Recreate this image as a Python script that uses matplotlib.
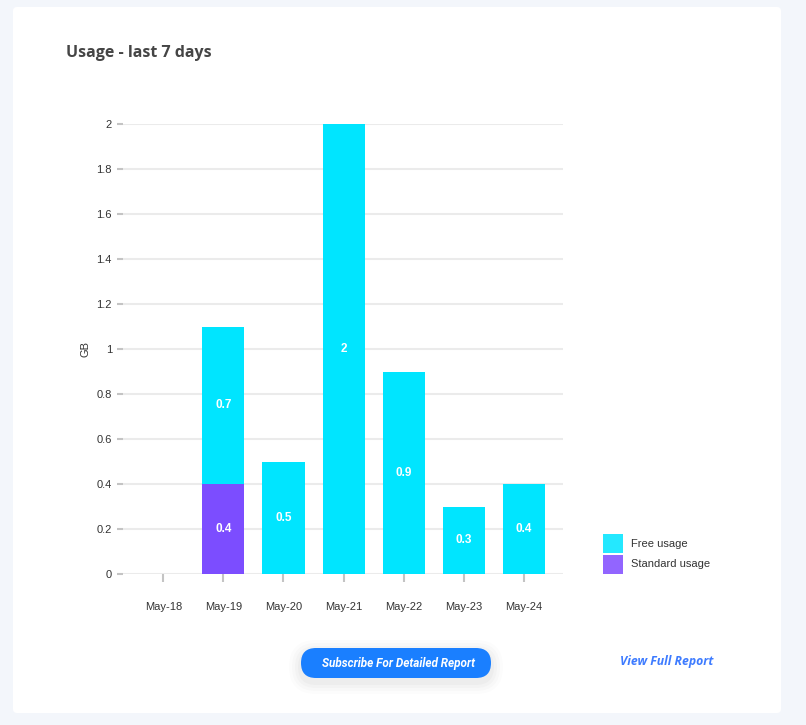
import numpy as np
import matplotlib
matplotlib.use('Agg')
import matplotlib.pyplot as plt
from matplotlib.patches import FancyBboxPatch, Patch
from matplotlib.transforms import IdentityTransform

dates = ['May-18', 'May-19', 'May-20', 'May-21', 'May-22', 'May-23', 'May-24']
standard_usage = [0, 0.4, 0, 0, 0, 0, 0]
free_usage = [0, 0.7, 0.5, 2, 0.9, 0.3, 0.4]
y_ticks = [0, 0.2, 0.4, 0.6, 0.8, 1, 1.2, 1.4, 1.6, 1.8, 2]
y_tick_labels = ['0', '0.2', '0.4', '0.6', '0.8', '1', '1.2', '1.4', '1.6', '1.8', '2']

W, H = 806, 725
fig = plt.figure(figsize=(W / 100, H / 100), dpi=100)
fig.patch.set_facecolor('#f3f6fb')
pix = IdentityTransform()

def px(x, y):
    return x / W, 1 - y / H

# white card
card = FancyBboxPatch((13, H - 713), 768, 706, boxstyle='round,pad=0,rounding_size=4',
                      transform=pix, facecolor='white', edgecolor='none', zorder=0)
fig.add_artist(card)

fig.text(*px(66, 53), 'Usage - last 7 days', fontsize=11.5, fontweight='bold',
         family='Open Sans', color='#454545', va='center', ha='left')

ax = fig.add_axes([123 / W, 1 - 574 / H, (563 - 123) / W, (574 - 124) / H])
ax.set_facecolor('none')
x = np.arange(len(dates))
std = np.array(standard_usage)
free = np.array(free_usage)

ax.bar(x, std, width=0.7, color='#7c4dff', zorder=3)
ax.bar(x, free, width=0.7, bottom=std, color='#00e5ff', zorder=3)

for i in range(len(dates)):
    if std[i] > 0:
        ax.text(x[i], std[i] / 2, f'{std[i]:g}', ha='center', va='center', color='white',
                fontsize=8.5, fontweight='bold', family='Liberation Sans', zorder=4)
    if free[i] > 0:
        ax.text(x[i], std[i] + free[i] / 2, f'{free[i]:g}', ha='center', va='center',
                color='white', fontsize=8.5, fontweight='bold', family='Liberation Sans', zorder=4)

ax.set_xlim(-0.67, 6.65)
ax.set_ylim(0, 2)
ax.set_yticks(y_ticks)
ax.set_yticklabels(y_tick_labels)
ax.set_xticks(x)
ax.set_xticklabels(dates)
for s in ax.spines.values():
    s.set_visible(False)
ax.grid(axis='y', color='#ebebeb', linewidth=1.5, zorder=0)
ax.tick_params(axis='y', length=4, width=1.5, color='#c4c4c4', direction='out', pad=4,
               labelsize=8, labelcolor='#333333')
ax.tick_params(axis='x', length=6, width=1.5, color='#c4c4c4', direction='out', pad=14,
               labelsize=8, labelcolor='#333333')
for lab in ax.get_xticklabels() + ax.get_yticklabels():
    lab.set_family('Liberation Sans')
ax.set_ylabel('GB', fontsize=8, family='Liberation Sans', color='#333333', labelpad=4)

handles = [Patch(facecolor='#24e8ff', edgecolor='none'), Patch(facecolor='#9265ff', edgecolor='none')]
leg = fig.legend(handles, ['Free usage', 'Standard usage'], loc='upper left',
                 bbox_to_anchor=px(594, 525), frameon=False, handlelength=1.8, handleheight=2.25,
                 handletextpad=0.7, labelspacing=0.15, borderpad=0.3,
                 prop={'family': 'Liberation Sans', 'size': 8})
for t in leg.get_texts():
    t.set_color('#333333')

# subscribe button with soft shadow
for g, a in [(12, 0.012), (9, 0.015), (6, 0.02), (3, 0.025)]:
    sh = FancyBboxPatch((301 - g, H - 682 - g), 190 + 2 * g, 30 + 2 * g,
                        boxstyle=f'round,pad=0,rounding_size={15 + g}',
                        transform=pix, facecolor='#000000', alpha=a, edgecolor='none', zorder=1)
    fig.add_artist(sh)
btn = FancyBboxPatch((301, H - 678), 190, 30, boxstyle='round,pad=0,rounding_size=15',
                     transform=pix, facecolor='#1a7fff', edgecolor='none', zorder=2)
fig.add_artist(btn)
fig.text(*px(399, 663), 'Subscribe For Detailed Report', fontsize=8.5, fontweight='bold',
         style='italic', family='Roboto', color='white', ha='center', va='center', zorder=3)
fig.text(*px(667, 661), 'View Full Report', fontsize=8.8, fontweight='bold', style='italic',
         family='Open Sans', color='#3d7bff', ha='center', va='center')

fig.savefig('out.png', dpi=100, facecolor=fig.get_facecolor())
